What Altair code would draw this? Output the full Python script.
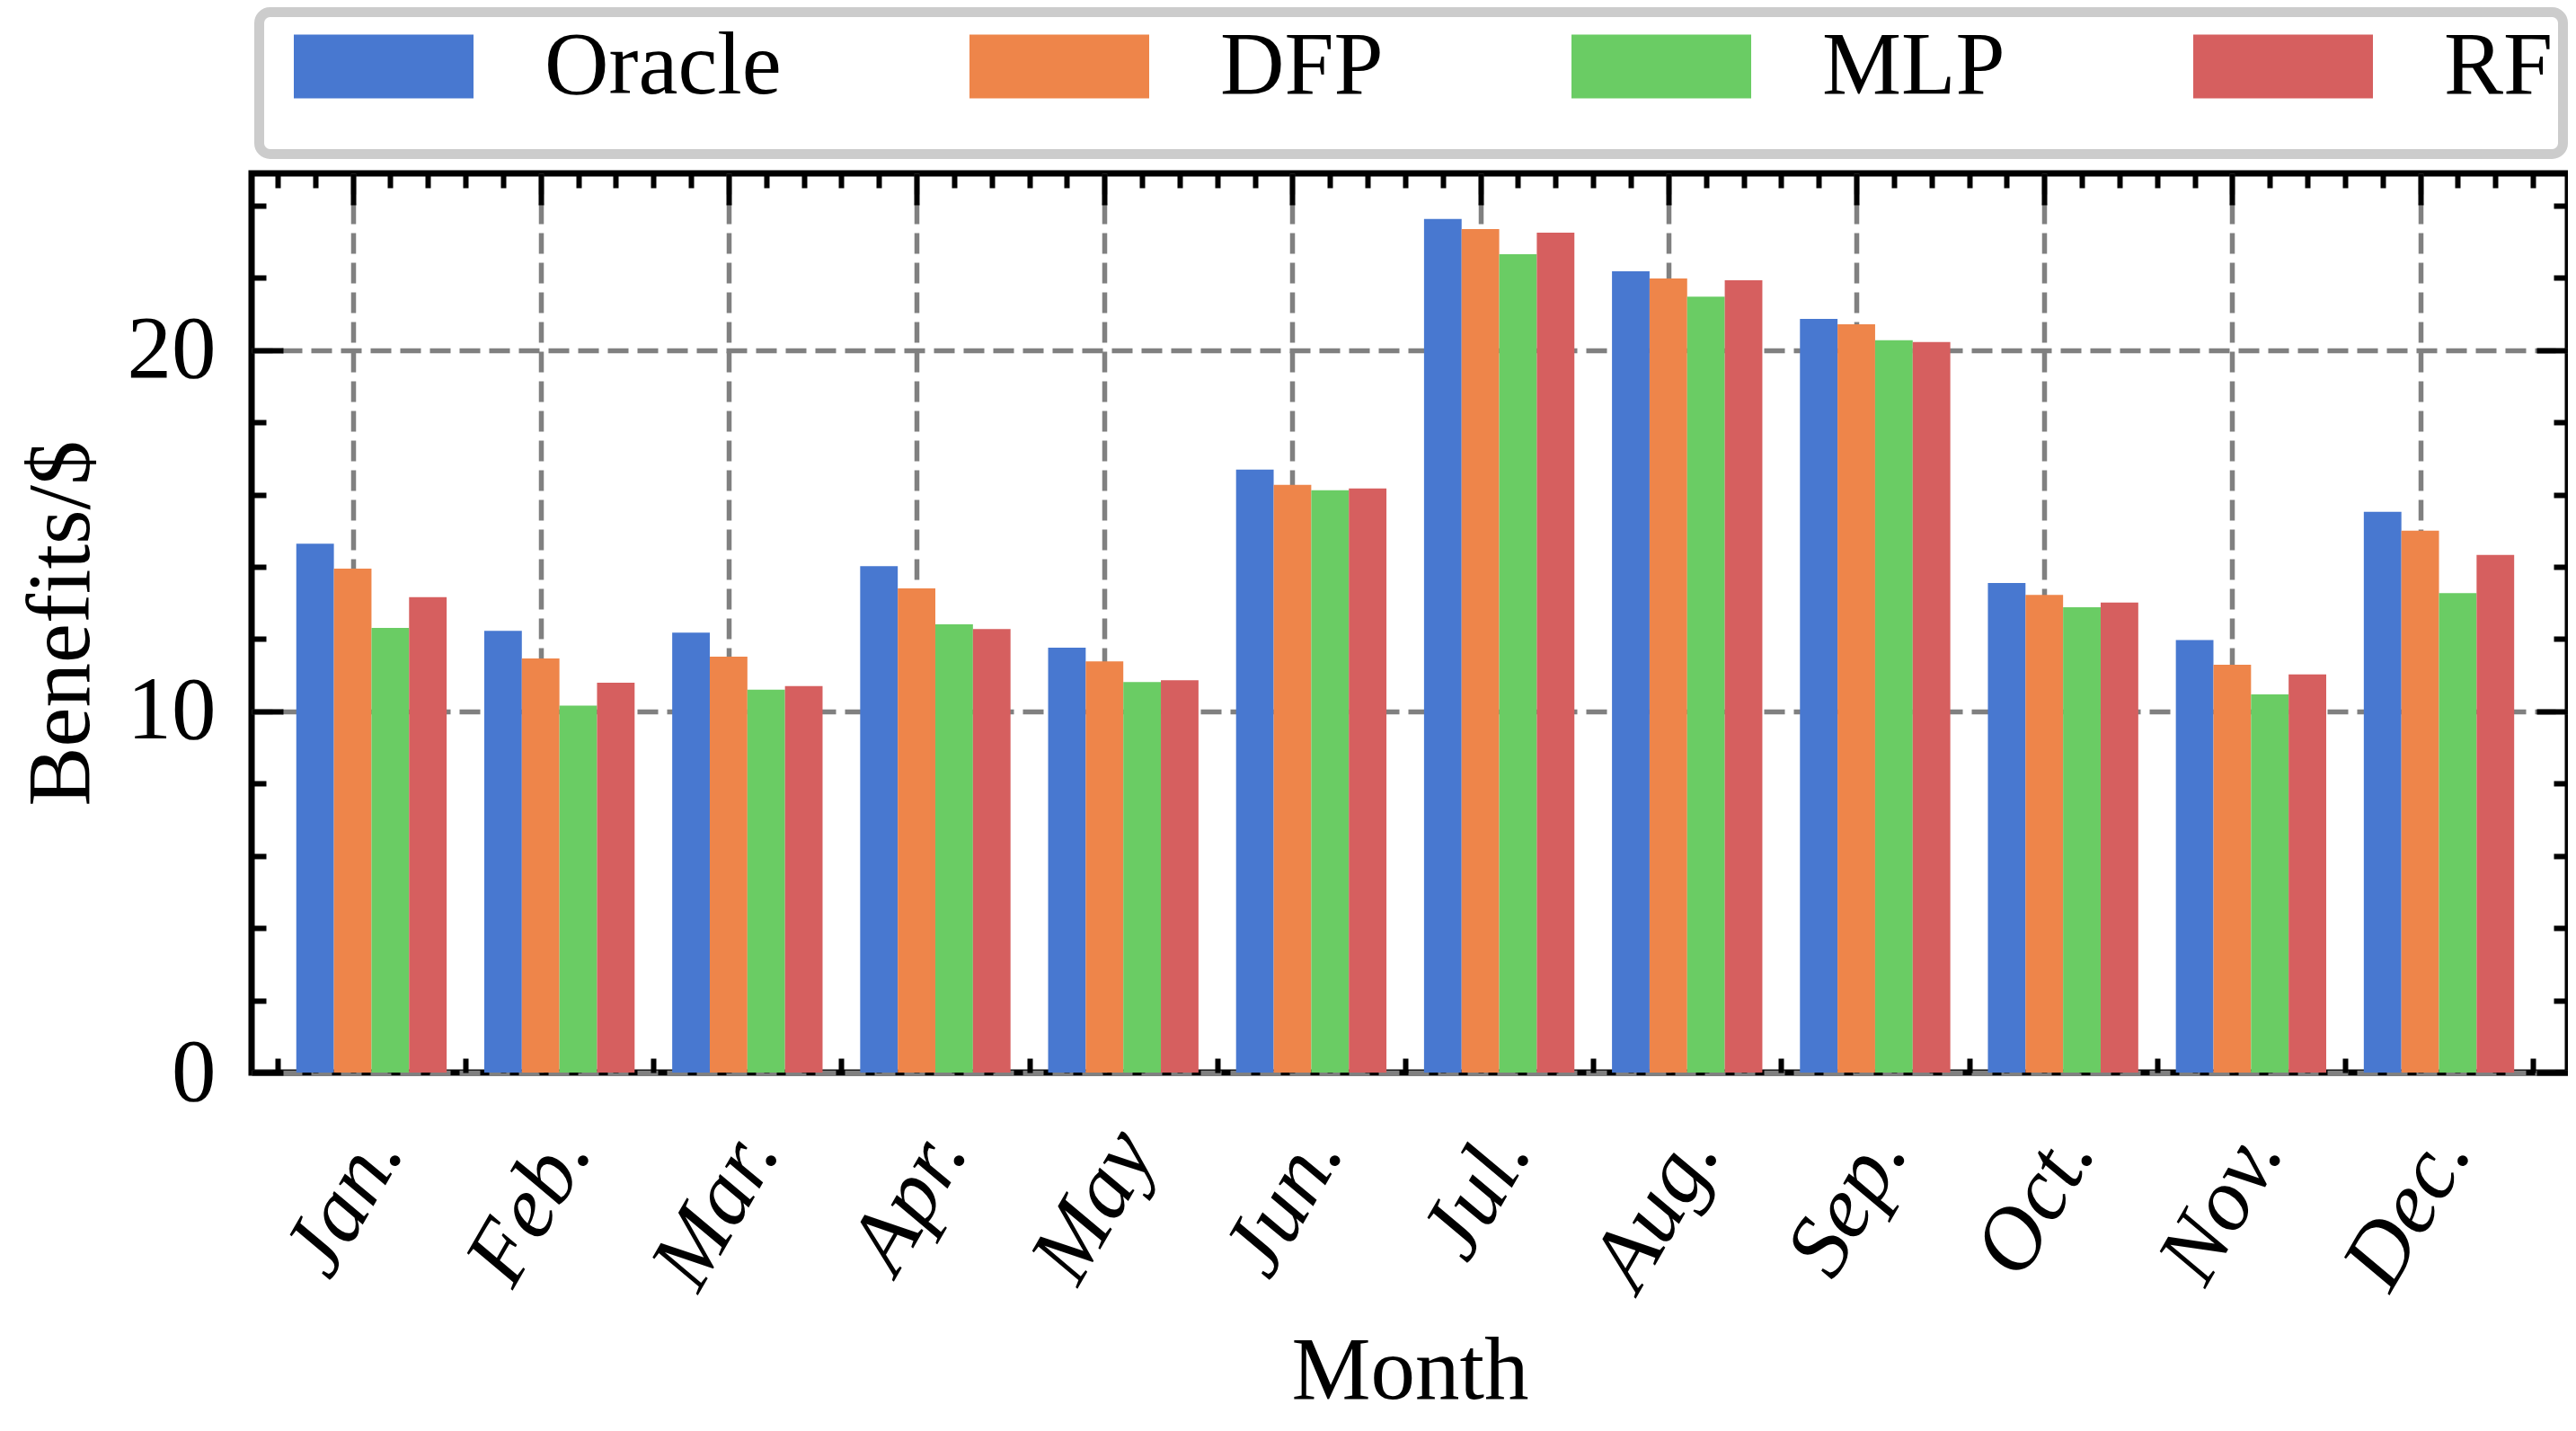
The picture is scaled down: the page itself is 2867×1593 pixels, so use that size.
import json
import altair as alt
import pandas as pd

months = ['Jan.', 'Feb.', 'Mar.', 'Apr.', 'May', 'Jun.', 'Jul.', 'Aug.', 'Sep.', 'Oct.', 'Nov.', 'Dec.']
series = ['Oracle', 'DFP', 'MLP', 'RF']
colors = ['#4878d0', '#ee854a', '#6acc64', '#d65f5f']

oracle = [14.64, 12.23, 12.18, 14.02, 11.76, 16.69, 23.63, 22.18, 20.86, 13.55, 11.97, 15.52]
dfp = [13.95, 11.46, 11.51, 13.40, 11.38, 16.27, 23.35, 21.98, 20.71, 13.22, 11.29, 15.00]
mlp = [12.31, 10.16, 10.60, 12.41, 10.81, 16.12, 22.65, 21.48, 20.27, 12.88, 10.47, 13.27]
rf = [13.16, 10.79, 10.70, 12.28, 10.86, 16.17, 23.25, 21.93, 20.22, 13.01, 11.02, 14.33]

x_major = list(range(12))
x_minor = [round(i + k * 0.2, 2) for i in range(12) for k in (-2, -1, 1, 2)] + [11.6]
y_major = [0, 10, 20]
y_minor = [2, 4, 6, 8, 12, 14, 16, 18, 22, 24]

rows = []
for s, vals in zip(series, [oracle, dfp, mlp, rf]):
    for m, v in enumerate(vals):
        rows.append({'m': m, 'series': s, 'value': v})
df = pd.DataFrame(rows)

FONT = 'Liberation Serif'
W, H = 2578, 1001
xscale = alt.Scale(domain=[-0.514, 11.762], nice=False, zero=False)
yscale = alt.Scale(domain=[0, 24.89], nice=False, zero=False)

base = alt.Chart(df).transform_calculate(
    x0="datum.m + indexof(" + json.dumps(series) + ", datum.series) * 0.2 - 0.3",
    x1="datum.m + indexof(" + json.dumps(series) + ", datum.series) * 0.2 - 0.1",
)

label_expr = json.dumps(months) + "[round(datum.value)]"

common_tick = dict(tickColor='black', tickWidth=6, domain=False, labelFlush=False)

x_axis_main = alt.Axis(
    orient='bottom', values=x_major, offset=-35, tickSize=35, **common_tick,
    grid=True, gridColor='#808080', gridDash=[23, 10], gridWidth=5.5,
    labelExpr=label_expr, labelAngle=300, labelAlign='right', labelBaseline='middle',
    labelOffset=32, labelPadding=72, labelFont=FONT, labelFontStyle='italic',
    labelFontSize=99, labelColor='black', labelOverlap=False, labelLimit=600,
    title='Month', titleFont=FONT, titleFontSize=99, titleFontWeight='normal',
    titleColor='black', titleX=W / 2, titleY=397, titleAlign='center',
    titleBaseline='alphabetic',
)
y_axis_main = alt.Axis(
    orient='left', values=y_major, offset=-35, tickSize=35, **common_tick,
    grid=True, gridColor='#808080', gridDash=[23, 10], gridWidth=5.5,
    labelFont=FONT, labelFontSize=99, labelColor='black', labelPadding=40,
    labelOverlap=False, labelLimit=600,
    title='Benefits/$', titleFont=FONT, titleFontSize=99, titleFontWeight='normal',
    titleColor='black', titleAngle=270, titleX=-217, titleY=H / 2,
    titleAlign='center', titleBaseline='alphabetic', titleLimit=2000,
)

def plain_axis(orient, values, size):
    return alt.Axis(orient=orient, values=values, offset=-size, tickSize=size,
                    labels=False, grid=False, title=None, **common_tick)

# legend swatch: 200 x 71 px rectangle (symbol scale r = 49.5 px),
# plus an invisible zero-area sliver that extends the legend frame downward
legend_path = ('M-2.0202,-0.7172L2.0202,-0.7172L2.0202,0.7172L-2.0202,0.7172Z'
               'M0,1.747L0.0001,1.747L0,1.7471Z')

bars = base.mark_bar().encode(
    x=alt.X('x0:Q', scale=xscale, axis=x_axis_main),
    x2='x1:Q',
    y=alt.Y('value:Q', scale=yscale, axis=y_axis_main),
    y2=alt.datum(0),
    color=alt.Color('series:N',
                    scale=alt.Scale(domain=series, range=colors),
                    sort=series,
                    legend=alt.Legend(
                        orient='none', legendX=8.5, legendY=-179.5,
                        direction='horizontal', columns=4, title=None,
                        symbolType=legend_path, symbolSize=9801,
                        symbolOffset=78,
                        symbolStrokeWidth=0, symbolOpacity=1,
                        labelFont=FONT, labelFontSize=99, labelColor='black',
                        labelOffset=129.5, columnPadding=181, padding=11,
                        strokeColor='#cccccc', cornerRadius=12,
                        labelLimit=1000,
                    )),
)

def ghost(xax, yax):
    return base.mark_bar(opacity=0).encode(
        x=alt.X('x0:Q', scale=xscale, axis=xax),
        y=alt.Y('value:Q', scale=yscale, axis=yax),
    )

layer2 = ghost(plain_axis('bottom', x_minor, 16), plain_axis('left', y_minor, 16))
layer3 = ghost(plain_axis('top', x_major, 35), plain_axis('right', y_major, 35))
layer4 = ghost(plain_axis('top', x_minor, 16), plain_axis('right', y_minor, 16))

chart = alt.layer(bars, layer2, layer3, layer4).resolve_axis(
    x='independent', y='independent'
).properties(
    width=W, height=H,
    autosize=alt.AutoSizeParams(type='none'),
    padding={'left': 272, 'top': 185, 'right': 0, 'bottom': 386},
).configure(
    font=FONT,
).configure_view(
    stroke='black', strokeWidth=7, fill='white',
).configure_legend(
    strokeWidth=11,
)

chart.save('out.html', embed_options={'renderer': 'svg', 'actions': False})
